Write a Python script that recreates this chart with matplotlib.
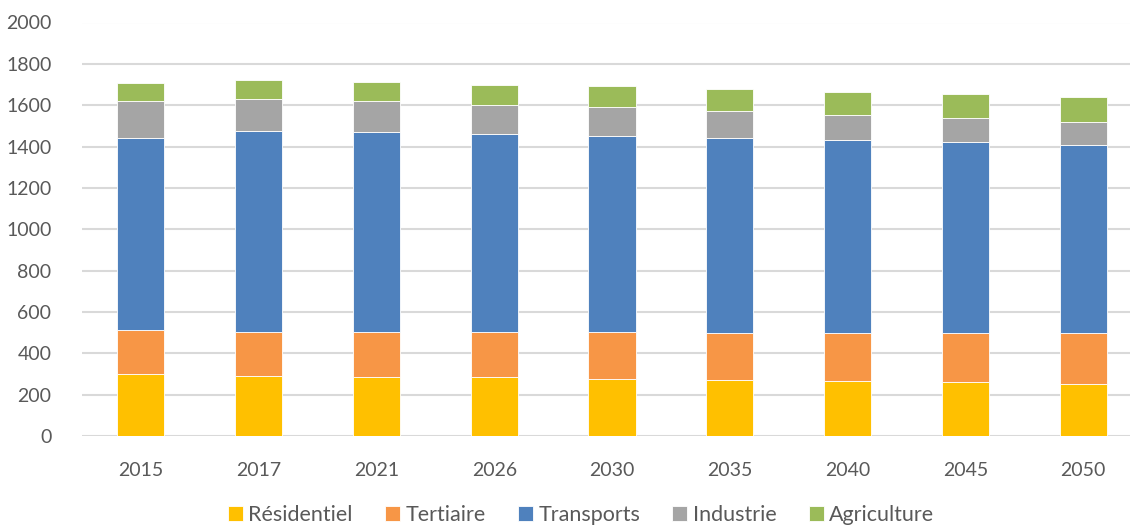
import numpy as np
from matplotlib import pyplot as plt

years = ["2015", "2017", "2021", "2026", "2030", "2035", "2040", "2045", "2050"]
residentiel = [302, 292, 287, 284, 278, 271, 266, 259, 253]
tertiaire = [210, 213, 215, 218, 223, 229, 231, 238, 243]
transports = [930, 971, 966, 958, 950, 942, 935, 924, 912]
industrie = [176, 154, 150, 143, 138, 130, 123, 119, 113]
agriculture = [87, 90, 92, 96, 102, 106, 110, 114, 118]

series = [
    ("Résidentiel", residentiel, "#FFC000"),
    ("Tertiaire", tertiaire, "#F79646"),
    ("Transports", transports, "#4F81BD"),
    ("Industrie", industrie, "#A5A5A5"),
    ("Agriculture", agriculture, "#9BBB59"),
]

plt.rcParams["font.family"] = ["Lato", "DejaVu Sans"]
text_color = "#595959"

fig = plt.figure(figsize=(11.30, 5.29), dpi=100)
ax = fig.add_axes([82 / 1130, 1 - 436 / 529, 1060 / 1130, (436 - 22.5) / 529])

x = np.arange(len(years))
bottom = np.zeros(len(years))
for name, values, color in series:
    ax.bar(x, values, width=0.4, bottom=bottom, color=color, label=name,
           edgecolor="white", linewidth=0.6, zorder=3)
    bottom += np.array(values)

ax.set_xlim(-0.5, len(years) - 0.5)
ax.set_ylim(0, 2000)
ax.set_yticks(np.arange(0, 2001, 200))
ax.set_xticks(x)
ax.set_xticklabels(years)
ax.yaxis.grid(True, color="#D9D9D9", linewidth=1.5, zorder=0)
ax.set_axisbelow(True)
for spine in ax.spines.values():
    spine.set_visible(False)
ax.tick_params(axis="both", length=0, labelsize=14, colors=text_color)
ax.tick_params(axis="x", pad=19)
ax.tick_params(axis="y", pad=22)

leg = fig.legend(loc="lower center", bbox_to_anchor=(581 / 1130, -0.03), ncol=5,
                 frameon=False, fontsize=15.5, handlelength=0.7, handleheight=0.7,
                 handletextpad=0.25, columnspacing=1.5)
for t in leg.get_texts():
    t.set_color(text_color)

plt.savefig("out.png", dpi=100)
